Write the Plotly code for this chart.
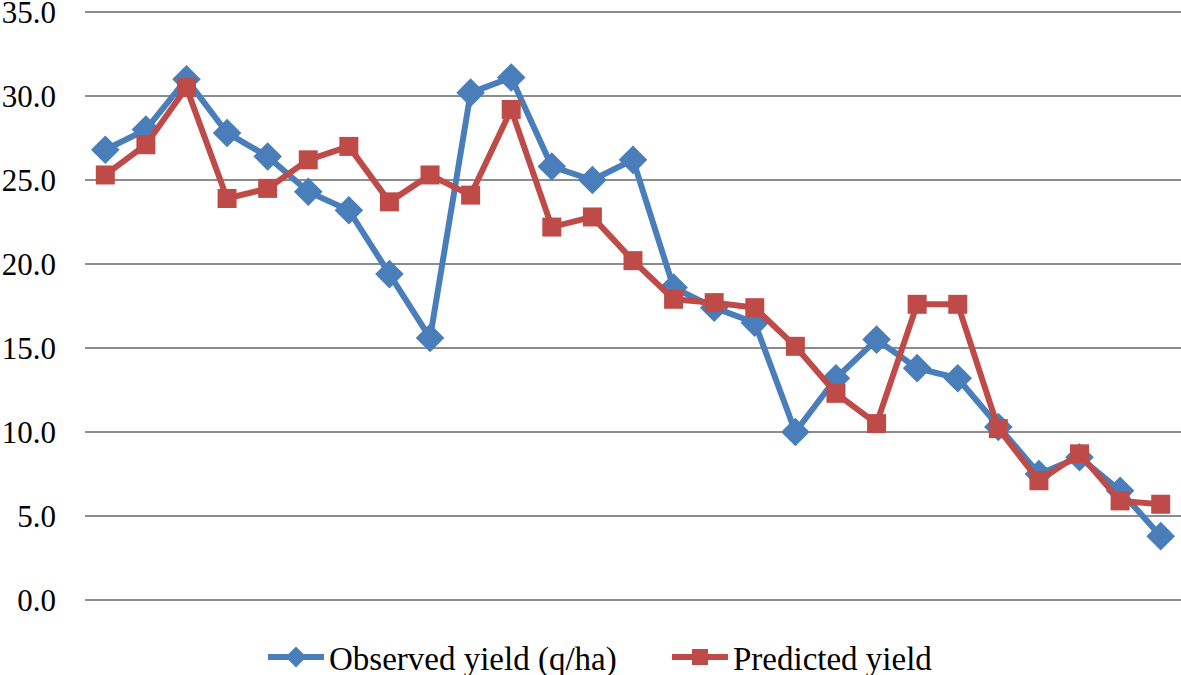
import plotly.graph_objects as go

categories = list(range(1, 28))
observed = [26.8, 28.0, 31.0, 27.8, 26.4, 24.3, 23.2, 19.4, 15.6, 30.2, 31.1, 25.8, 25.0, 26.2,
            18.6, 17.4, 16.5, 10.0, 13.2, 15.5, 13.8, 13.2, 10.3, 7.5, 8.5, 6.5, 3.8]
predicted = [25.3, 27.1, 30.5, 23.9, 24.5, 26.2, 27.0, 23.7, 25.3, 24.1, 29.2, 22.2, 22.8, 20.2,
             17.9, 17.7, 17.4, 15.1, 12.3, 10.5, 17.6, 17.6, 10.2, 7.1, 8.7, 5.9, 5.7]
y_ticks = [0, 5, 10, 15, 20, 25, 30, 35]

FONT = "Times New Roman, Liberation Serif, serif"
FIG_H = 690  # slightly taller than the window so the legend's bottom padding is not clipped

fig = go.Figure()
fig.add_trace(go.Scatter(
    x=categories, y=observed, mode="lines+markers", name="Observed yield (q/ha)",
    line=dict(color="#4A7EBB", width=6),
    marker=dict(symbol="diamond", size=22, color="#4A7EBB"),
    legend="legend",
))
fig.add_trace(go.Scatter(
    x=categories, y=predicted, mode="lines+markers", name="Predicted yield",
    line=dict(color="#BE4B48", width=6),
    marker=dict(symbol="square", size=19, color="#BE4B48"),
    legend="legend2",
))

legend_common = dict(orientation="h", xanchor="left", y=-0.095, yanchor="middle",
                     itemwidth=56, bgcolor="rgba(0,0,0,0)",
                     font=dict(family=FONT, size=33, color="black"))

fig.update_layout(
    width=1181, height=FIG_H,
    margin=dict(l=85, r=0, t=11, b=FIG_H - 601, autoexpand=False),
    paper_bgcolor="white", plot_bgcolor="white",
    font=dict(family=FONT, size=31, color="black"),
    xaxis=dict(type="category", range=[-0.5, 26.5], showticklabels=False,
               showgrid=False, zeroline=False, showline=False, automargin=False),
    yaxis=dict(range=[-0.06, 35.06], tickvals=y_ticks, tickformat=".1f",
               tickfont=dict(family=FONT, size=31, color="black"),
               showgrid=True, gridcolor="#8C8C8C", gridwidth=1.5,
               zeroline=False, showline=False, ticklabelstandoff=28, automargin=False,
               ticklabeloverflow="allow"),
    legend=dict(x=0.1624, **legend_common),
    legend2=dict(x=0.531, **legend_common),
    showlegend=True,
)
fig.write_html("out.html", config={"displayModeBar": False},
               post_script="document.body.style.margin='0';document.body.style.overflow='hidden';")
